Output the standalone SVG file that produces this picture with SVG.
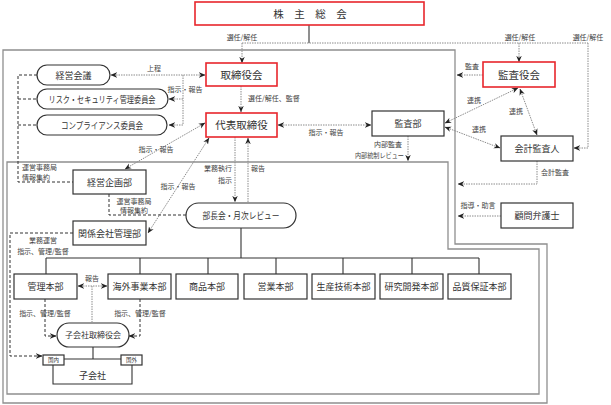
<svg xmlns="http://www.w3.org/2000/svg" width="611" height="405" viewBox="0 0 611 405">
<defs>
<marker id="ah" viewBox="0 0 10 10" refX="9.5" refY="5" markerWidth="6.5" markerHeight="6.5" orient="auto-start-reverse" markerUnits="userSpaceOnUse"><path d="M0,0.8 L10,5 L0,9.2 L3,5 z" fill="#222"/></marker>
<style>
text{font-family:"Noto Sans CJK JP","Noto Sans",sans-serif;fill:#333}
.bt{font-size:9px;text-anchor:middle}
.rt{font-size:10.5px;text-anchor:middle}
.lb{font-size:7px;fill:#444}
.c{text-anchor:middle}
.e{text-anchor:end}
.box{fill:#fff;stroke:#333;stroke-width:1.2}
.red{fill:#fff;stroke:#e8262c;stroke-width:1.6}
.frame{fill:none;stroke:#8f8f8f;stroke-width:1.3}
.dot{fill:none;stroke:#8c8c8c;stroke-width:1;stroke-dasharray:1.5 1}
.dash{fill:none;stroke:#333;stroke-width:1;stroke-dasharray:3 2}
.sol{fill:none;stroke:#333;stroke-width:1.1}
.arr{marker-end:url(#ah)}
.dbl{marker-start:url(#ah);marker-end:url(#ah)}
</style>
</defs>
<rect width="611" height="405" fill="#fff"/>
<g id="frames">
<path class="frame" d="M3,50 H455 V244 H547 V403 H3 Z"/>
<path class="frame" d="M7,162 H448 V249 H539 V394 H7 Z"/>
</g>
<g id="connectors">
<path class="sol" d="M309,25 V43" stroke="#777"/>
<path class="dot" d="M242,43 H588"/>
<path class="dot arr" d="M242,43 V63"/>
<path class="dot arr" d="M519,43 V62"/>
<path class="dot arr" d="M588,43 V148 H574"/>
<path class="dot dbl" d="M111,75 H205"/>
<path class="dot" d="M183,75 V125"/>
<path class="dot arr" d="M183,99 H169"/>
<path class="dot arr" d="M183,125 H169"/>
<path class="dot arr" d="M241,86 V112"/>
<path class="dot dbl" d="M278,125 H371"/>
<path class="dot arr" d="M408,136 V161"/>
<path class="dot arr" d="M483,75 H457"/>
<path class="dot dbl" d="M518,88 L445,123"/>
<path class="dot dbl" d="M445,127 L500,148"/>
<path class="dot dbl" d="M520,89 L537,135"/>
<path class="dot arr" d="M537,161 V184 H458"/>
<path class="dot arr" d="M501,216 H458"/>
<path class="dot dbl" d="M205,123 L125,169"/>
<path class="dot dbl" d="M209,138 L148,233"/>
<path class="dot arr" d="M235,137 V202"/>
<path class="dot arr" d="M248,202 V138"/>
<path class="dash" d="M109,194 V215 H186"/>
<path class="dash" d="M37,75 H18 V182 H73 M18,99 H37 M18,125 H37"/>
<path class="dash arr" d="M73,233 H10 V356 H42"/>
<path class="sol" d="M241,228 V258 M46,258 H479 M46,258 V274 M140,258 V274 M208,258 V274 M276,258 V274 M343,258 V274 M412,258 V274 M479,258 V274"/>
<path class="dot dbl" d="M78,286 H107"/>
<path class="dot" d="M92,286 V322"/>
<path class="dash arr" d="M45,299 V336 H56"/>
<path class="dash arr" d="M140,299 V336 H129"/>
<path class="sol" d="M93,347 V359 M64,359 H121"/>
</g>
<g id="labels">
<text class="lb c" x="242" y="40">選任/解任</text>
<text class="lb c" x="520" y="40">選任/解任</text>
<text class="lb c" x="588" y="40">選任/解任</text>
<text class="lb c" x="154" y="71">上程</text>
<text class="lb c" x="185" y="92">指示・報告</text>
<text class="lb" x="248" y="101">選任/解任、監督</text>
<text class="lb c" x="326" y="135">指示・報告</text>
<text class="lb c" x="472" y="69">監査</text>
<text class="lb c" x="474" y="103">連携</text>
<text class="lb c" x="516" y="114">連携</text>
<text class="lb c" x="479" y="132">連携</text>
<text class="lb c" x="388" y="147">内部監査</text>
<text class="lb e" x="404" y="158" textLength="49" lengthAdjust="spacingAndGlyphs">内部統制レビュー</text>
<text class="lb" x="541" y="175">会計監査</text>
<text class="lb c" x="478" y="208">指導・助言</text>
<text class="lb" x="22" y="170">運営事務局</text>
<text class="lb" x="22" y="180">情報集約</text>
<text class="lb c" x="156" y="152">指示・報告</text>
<text class="lb c" x="178" y="189">指示・報告</text>
<text class="lb c" x="134" y="204">運営事務局</text>
<text class="lb c" x="134" y="213">情報集約</text>
<text class="lb e" x="232" y="171">業務執行</text>
<text class="lb e" x="232" y="183">指示</text>
<text class="lb" x="251" y="171">報告</text>
<text class="lb c" x="43" y="243">業務運営</text>
<text class="lb c" x="43" y="254">指示、管理/監督</text>
<text class="lb c" x="92" y="281">報告</text>
<text class="lb c" x="45" y="316">指示、管理/監督</text>
<text class="lb c" x="140" y="316">指示、管理/監督</text>
</g>
<g id="n-kabunushi"><rect class="red" x="195" y="2" width="229" height="23"/><text class="rt" x="310" y="17.5">株　主　総　会</text></g>
<g id="n-keieikaigi"><rect class="box" x="37" y="65" width="73" height="20" rx="10"/><text class="bt" x="73.5" y="78.5">経営会議</text></g>
<g id="n-risk"><rect class="box" x="37" y="89" width="131" height="20" rx="10"/><text class="bt" x="102" y="102.5" textLength="107" lengthAdjust="spacingAndGlyphs">リスク・セキュリティ管理委員会</text></g>
<g id="n-compliance"><rect class="box" x="37" y="115" width="130" height="20" rx="10"/><text class="bt" x="102" y="128.5" textLength="82" lengthAdjust="spacingAndGlyphs">コンプライアンス委員会</text></g>
<g id="n-torishimariyakukai"><rect class="red" x="206" y="63" width="71" height="23"/><text class="rt" x="241.5" y="78.5">取締役会</text></g>
<g id="n-daihyo"><rect class="red" x="206" y="113" width="71" height="24"/><text class="rt" x="241.5" y="129">代表取締役</text></g>
<g id="n-kansabu"><rect class="box" x="372" y="111" width="72" height="25"/><text class="bt" x="408" y="127">監査部</text></g>
<g id="n-kansayakukai"><rect class="red" x="483" y="62" width="72" height="25"/><text class="rt" x="519" y="78.5">監査役会</text></g>
<g id="n-kaikei"><rect class="box" x="501" y="136" width="72" height="25"/><text class="bt" x="537" y="151.5">会計監査人</text></g>
<g id="n-komon"><rect class="box" x="501" y="203" width="72" height="25"/><text class="bt" x="537" y="218.5">顧問弁護士</text></g>
<g id="n-keieikikaku"><rect class="box" x="73" y="170" width="73" height="24"/><text class="bt" x="109.5" y="185.5">経営企画部</text></g>
<g id="n-kankei"><rect class="box" x="73" y="221" width="73" height="24"/><text class="bt" x="109.5" y="236.5">関係会社管理部</text></g>
<g id="n-buchokai"><rect class="box" x="186" y="203" width="110" height="25" rx="12.5"/><text class="bt" x="241" y="219" textLength="77" lengthAdjust="spacingAndGlyphs">部長会・月次レビュー</text></g>
<g id="n-kanri"><rect class="box" x="14" y="274" width="63" height="25"/><text class="bt" x="45.5" y="290">管理本部</text></g>
<g id="n-kaigai"><rect class="box" x="108" y="274" width="63" height="25"/><text class="bt" x="139.5" y="290">海外事業本部</text></g>
<g id="n-shohin"><rect class="box" x="176" y="274" width="62" height="25"/><text class="bt" x="207" y="290">商品本部</text></g>
<g id="n-eigyo"><rect class="box" x="244" y="274" width="63" height="25"/><text class="bt" x="275.5" y="290">営業本部</text></g>
<g id="n-seisan"><rect class="box" x="312" y="274" width="63" height="25"/><text class="bt" x="343.5" y="290">生産技術本部</text></g>
<g id="n-kenkyu"><rect class="box" x="380" y="274" width="63" height="25"/><text class="bt" x="411.5" y="290">研究開発本部</text></g>
<g id="n-hinshitsu"><rect class="box" x="448" y="274" width="63" height="25"/><text class="bt" x="479.5" y="290">品質保証本部</text></g>
<g id="n-kogaisha-board"><rect class="box" x="57" y="323" width="72" height="24" rx="12"/><text class="bt" x="93" y="338" style="font-size:8px">子会社取締役会</text></g>
<g id="n-kogaisha"><path class="sol" d="M53,365 V384 H132 V365"/><text class="bt" x="92.5" y="378.5">子会社</text></g>
<g id="n-kokunai"><rect class="box" x="43" y="355" width="21" height="10"/><text x="53.5" y="362.3" style="font-size:5.5px;text-anchor:middle">国内</text></g>
<g id="n-kokugai"><rect class="box" x="121" y="355" width="21" height="10"/><text x="131.5" y="362.3" style="font-size:5.5px;text-anchor:middle">国外</text></g>
</svg>
